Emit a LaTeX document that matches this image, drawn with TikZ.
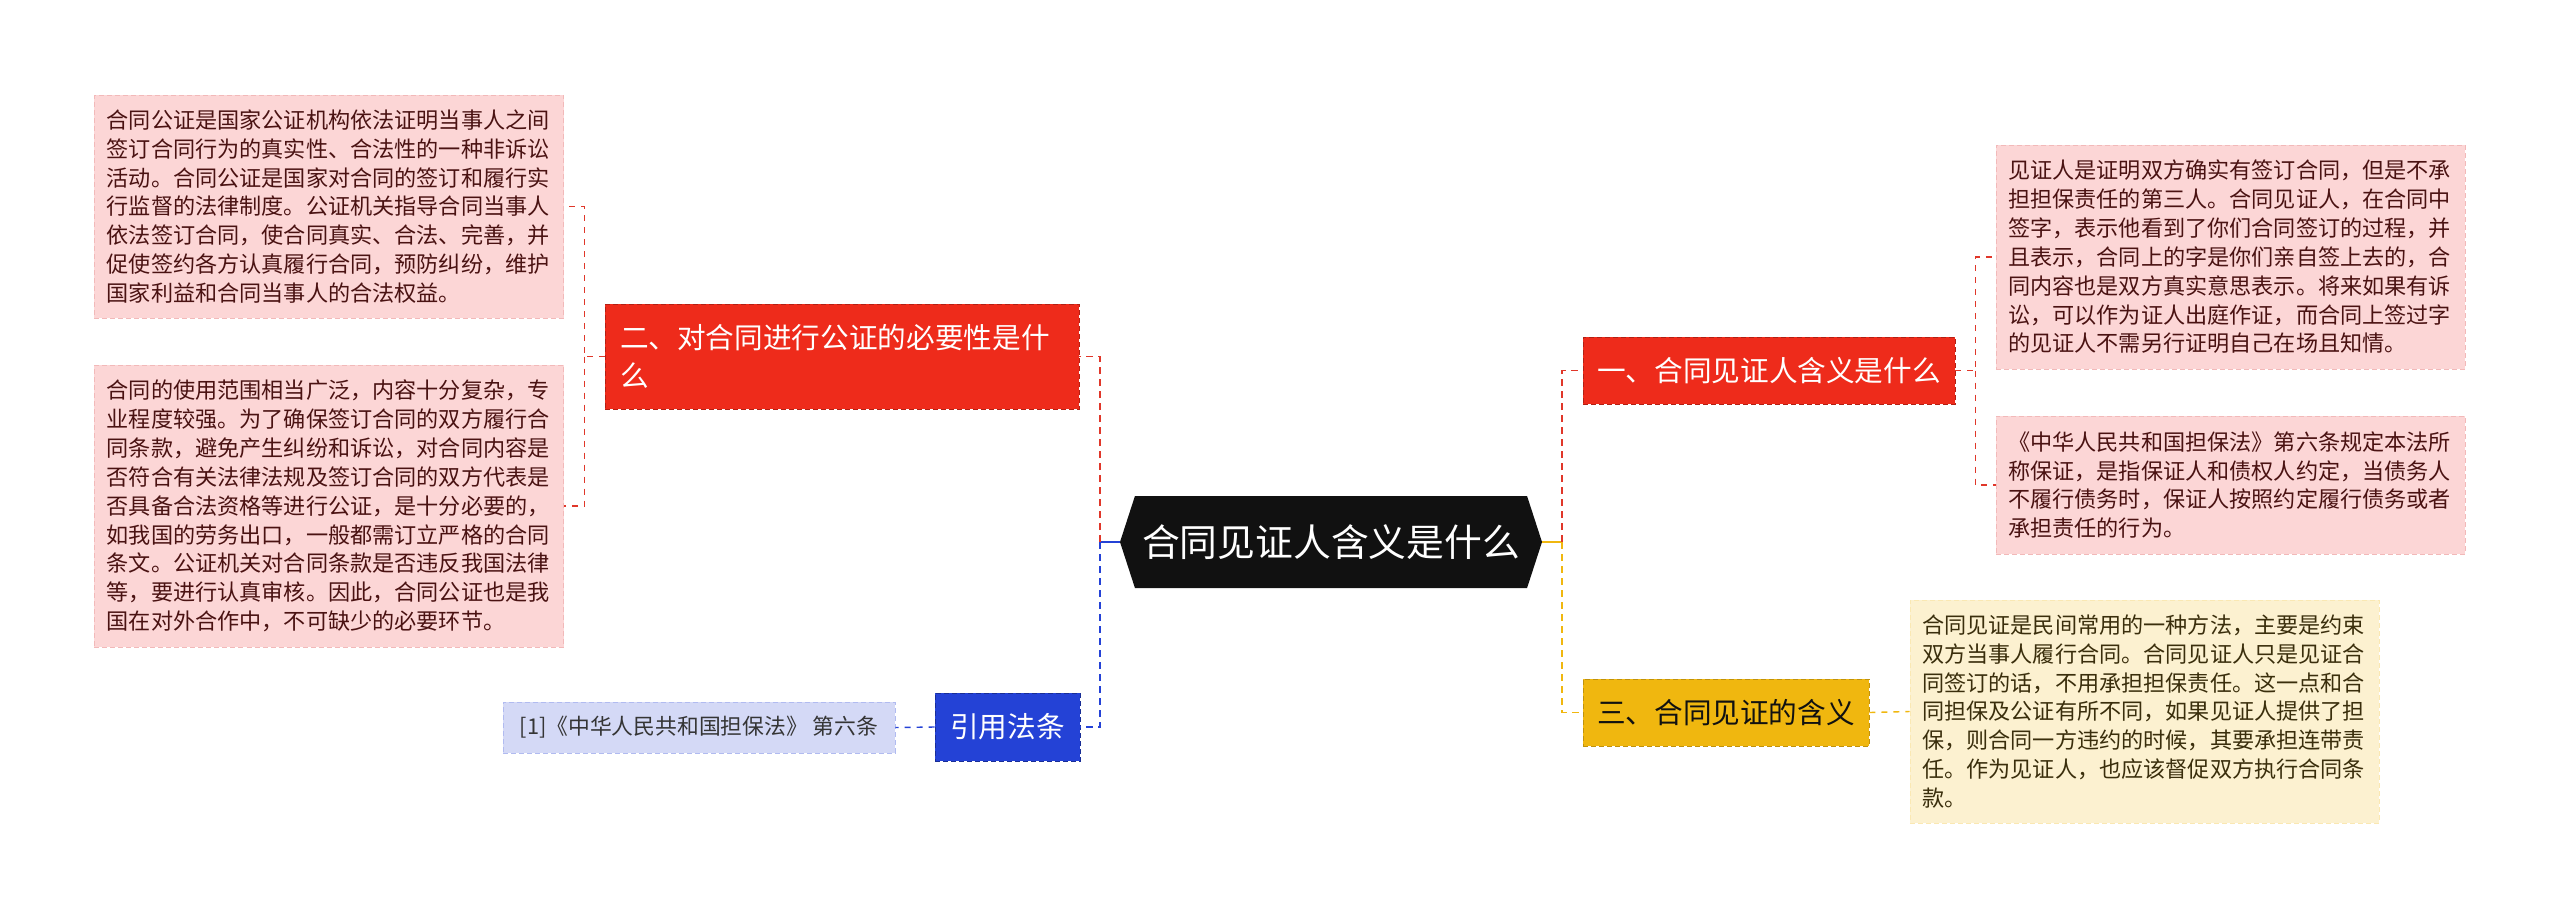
\documentclass[tikz,border=0pt]{standalone}
\usepackage{fontspec}
\setmainfont{Noto Sans CJK SC}
\usepackage{tikz}
\usetikzlibrary{positioning,calc,shapes.symbols}
\definecolor{ink}{HTML}{111111}
\definecolor{hot}{HTML}{EE2B1B}
\definecolor{hotline}{HTML}{E0372A}
\definecolor{blush}{HTML}{FCD6D6}
\definecolor{blushline}{HTML}{F2B9B9}
\definecolor{blushtext}{HTML}{4A1212}
\definecolor{navy}{HTML}{2442D6}
\definecolor{sky}{HTML}{D4D9F6}
\definecolor{gold}{HTML}{F0B70F}
\definecolor{cream}{HTML}{FCF1D0}
\definecolor{creamtext}{HTML}{3A2E0C}

\begin{document}
\begin{tikzpicture}[x=0.2mm,y=-0.2mm,
  root/.style={signal,signal to=west and east,signal pointer angle=144,fill=ink,text=white,
    minimum width=84.4mm,minimum height=18.4mm,inner sep=0pt,font=\fontsize{21.5pt}{24pt}\selectfont},
  topic/.style={rectangle,draw,dashed,dash pattern=on 1mm off 0.6mm,line width=0.5pt,
    minimum height=13.4mm,inner sep=0pt,font=\fontsize{16.3pt}{21.5pt}\selectfont},
  leaf/.style={rectangle,draw,dashed,dash pattern=on 1mm off 0.6mm,line width=0.5pt,
    align=left,text width=88.9mm,minimum width=93.8mm,inner xsep=2.45mm,inner ysep=0pt,
    font=\fontsize{12.6pt}{16.4pt}\selectfont},
  link/.style={line width=1.1pt,dash pattern=on 1.4mm off 1mm},
  twig/.style={line width=0.8pt,dash pattern=on 1.2mm off 1.2mm}
]
\useasboundingbox (0,0) rectangle (2560,920);
% ---- centre
\node[root] (root) at (1331,542) {合同见证人含义是什么};
\coordinate (lhub) at ($(root.west)+(-20,0)$);
\coordinate (rhub) at ($(root.east)+(20,0)$);
% ---- topics
\node[topic,fill=hot,draw=hot!75!black,text=white,minimum height=21mm,
      text width=88.8mm,inner xsep=3mm,align=left] (q2) at (842,356.5)
  {二、对合同进行公证的必要性是什\\么};
\node[topic,fill=navy,draw=navy!70!black,text=white,minimum width=29mm,minimum height=13.6mm]
  (cite) at (1007.5,727) {引用法条};
\node[topic,fill=hot,draw=hot!75!black,text=white,minimum width=74.4mm] (q1) at (1769,370.5)
  {一、合同见证人含义是什么};
\node[topic,fill=gold,draw=gold!80!black,text=ink,minimum width=57.2mm] (q3) at (1726,712.5)
  {三、合同见证的含义};
% ---- leaves
\node[leaf,fill=blush,draw=blushline,text=blushtext,minimum height=44.6mm] (n2a) at (329,206.5)
  {合同公证是国家公证机构依法证明当事人之间\\签订合同行为的真实性、合法性的一种非诉讼\\活动。合同公证是国家对合同的签订和履行实\\行监督的法律制度。公证机关指导合同当事人\\依法签订合同，使合同真实、合法、完善，并\\促使签约各方认真履行合同，预防纠纷，维护\\国家利益和合同当事人的合法权益。};
\node[leaf,fill=blush,draw=blushline,text=blushtext,minimum height=56.4mm] (n2b) at (329,506)
  {合同的使用范围相当广泛，内容十分复杂，专\\业程度较强。为了确保签订合同的双方履行合\\同条款，避免产生纠纷和诉讼，对合同内容是\\否符合有关法律法规及签订合同的双方代表是\\否具备合法资格等进行公证，是十分必要的，\\如我国的劳务出口，一般都需订立严格的合同\\条文。公证机关对合同条款是否违反我国法律\\等，要进行认真审核。因此，合同公证也是我\\国在对外合作中，不可缺少的必要环节。};
\node[leaf,fill=blush,draw=blushline,text=blushtext,minimum height=44.8mm] (n1a) at (2230.5,257)
  {见证人是证明双方确实有签订合同，但是不承\\担担保责任的第三人。合同见证人，在合同中\\签字，表示他看到了你们合同签订的过程，并\\且表示，合同上的字是你们亲自签上去的，合\\同内容也是双方真实意思表示。将来如果有诉\\讼，可以作为证人出庭作证，而合同上签过字\\的见证人不需另行证明自己在场且知情。};
\node[leaf,fill=blush,draw=blushline,text=blushtext,minimum height=27.6mm] (n1b) at (2230.5,485)
  {《中华人民共和国担保法》第六条规定本法所\\称保证，是指保证人和债权人约定，当债务人\\不履行债务时，保证人按照约定履行债务或者\\承担责任的行为。};
\node[leaf,fill=cream,draw=cream!85!gold,text=creamtext,minimum height=44.6mm] (n3) at (2144.5,711.5)
  {合同见证是民间常用的一种方法，主要是约束\\双方当事人履行合同。合同见证人只是见证合\\同签订的话，不用承担担保责任。这一点和合\\同担保及公证有所不同，如果见证人提供了担\\保，则合同一方违约的时候，其要承担连带责\\任。作为见证人，也应该督促双方执行合同条\\款。};
\node[rectangle,draw=sky!80!navy,dashed,dash pattern=on 1mm off 0.6mm,line width=0.5pt,fill=sky,text=ink!85,
      minimum width=78.4mm,minimum height=10.2mm,inner sep=0pt,font=\fontsize{12.4pt}{14pt}\selectfont]
  (ref) at (699,727.5) {[1]《中华人民共和国担保法》 第六条};
% ---- connectors
\draw[line width=1.1pt,navy] (root.west) -- (lhub);
\draw[link,hotline] (lhub) |- (q2.east);
\draw[link,navy] (lhub) |- (cite.east);
\draw[line width=1.1pt,gold] (root.east) -- (rhub);
\draw[link,hotline] (rhub) |- (q1.west);
\draw[link,gold] (rhub) |- (q3.west);
\coordinate (q2hub) at ($(q2.west)+(-20,0)$);
\draw[twig,hotline] (q2.west) -- (q2hub) |- (n2a.east);
\draw[twig,hotline] (q2hub) |- (n2b.east);
\coordinate (q1hub) at ($(q1.east)+(20,0)$);
\draw[twig,hotline] (q1.east) -- (q1hub) |- (n1a.west);
\draw[twig,hotline] (q1hub) |- (n1b.west);
\draw[twig,gold] (q3.east) -- (n3.west);
\draw[twig,navy] (cite.west) -- (ref.east);
\end{tikzpicture}
\end{document}
